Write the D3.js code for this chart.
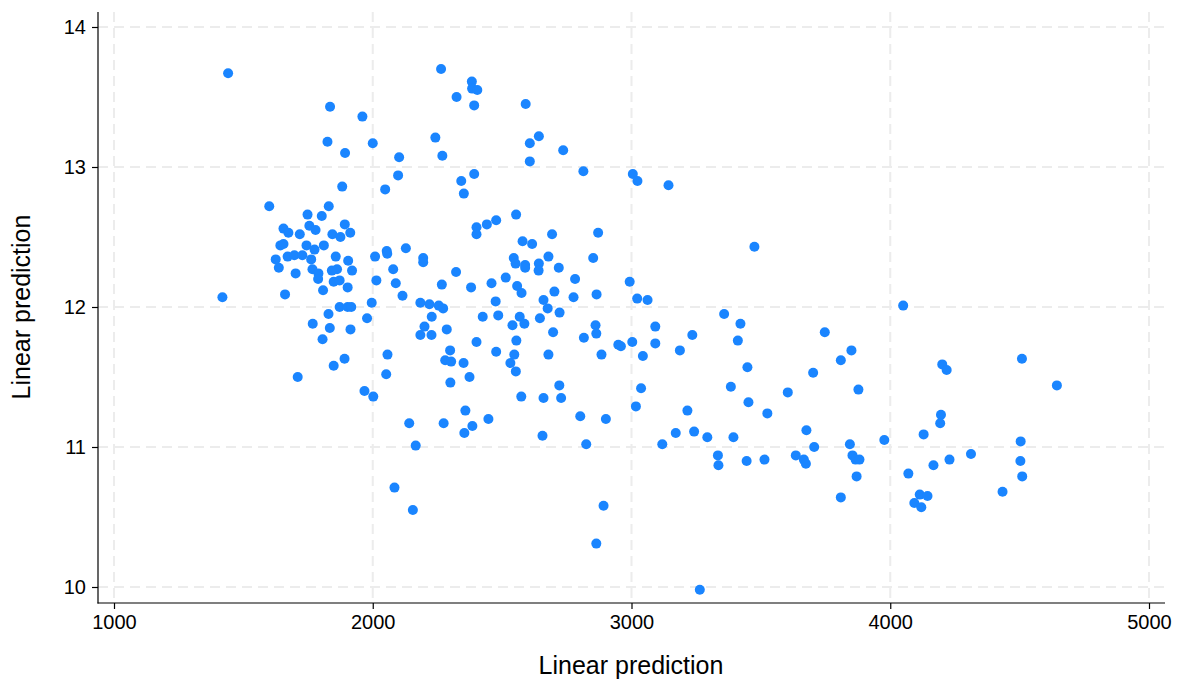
<!DOCTYPE html>
<html>
<head>
<meta charset="utf-8">
<script src="https://cdn.jsdelivr.net/npm/d3@7"></script>
<style>
  body { margin: 0; background: #fff; }
  svg { display: block; font-family: "Liberation Sans", Arial, sans-serif; }
</style>
</head>
<body>
<svg id="chart" width="1181" height="681"></svg>
<script>
// data (x = linear prediction, y = linear prediction)
var xVals = [1441,1835,1960,1825,1893,2000,2102,2098,2048,1882,1600,1830,1748,1803,1892,1755,1779,1655,1674,1718,
  1844,1875,1913,1643,1655,1744,1775,1811,2054,2128,1625,1637,1671,1697,1728,1762,1702,1767,1790,1789,
  1808,1857,1842,1862,1849,1872,1903,1905,1920,1661,1419,1829,1872,1903,1917,1996,1978,2009,2056,2079,
  2014,2089,2115,2195,2195,2184,2219,2255,2272,
  2264,2383,2384,2404,2324,2392,2591,2242,2269,2607,2642,2736,2607,2814,3005,3023,2342,2392,2352,2554,
  2401,2401,2441,2477,2579,2616,2693,2871,3143,3475,
  2322,2267,2380,2459,2514,2545,2552,2589,2589,2642,2641,2679,2719,2558,2575,2702,2660,2676,2722,2776,
  2782,2852,2865,2993,3022,3062,2475,2228,2425,2485,2568,2646,
  2200,2184,2227,2286,2540,2586,2697,2401,2477,2555,2547,2532,2553,2679,2299,2280,2303,2351,2374,2300,
  2574,2660,2721,2728,2358,2274,2385,2354,2447,2656,2802,2901,2825,2861,2864,2816,2884,2949,2959,3003,
  3044,3037,3017,
  1768,1834,1806,1914,1891,1849,1710,2057,2052,1968,2002,2141,2166,2084,2155,2892,2864,
  3119,3171,3242,3293,3394,3334,3336,3445,3514,3635,3666,3674,3676,3706,3844,3854,3866,3881,3870,3809,3264,
  3358,3421,3411,3235,3092,3092,3187,3747,3850,3809,3702,3448,3877,3384,3452,3525,3604,3216,
  4050,4201,4218,4509,4644,4196,4193,4129,3977,4504,4070,4167,4229,4312,4503,4510,4434,4114,4144,4093,4120];
var yVals = [13.67,13.43,13.36,13.18,13.10,13.17,13.07,12.94,12.84,12.86,12.72,12.72,12.66,12.65,12.59,12.58,12.55,12.56,12.53,12.52,
  12.52,12.50,12.53,12.44,12.45,12.44,12.41,12.44,12.40,12.42,12.34,12.28,12.36,12.37,12.37,12.34,12.24,12.27,12.24,12.20,
  12.12,12.36,12.26,12.27,12.18,12.19,12.14,12.33,12.26,12.09,12.07,11.95,12.00,12.00,12.00,12.03,11.92,12.36,12.38,12.27,
  12.19,12.17,12.08,12.35,12.32,12.03,12.02,12.01,11.99,
  13.70,13.61,13.56,13.55,13.50,13.44,13.45,13.21,13.08,13.17,13.22,13.12,13.04,12.97,12.95,12.90,12.90,12.95,12.81,12.66,
  12.57,12.52,12.59,12.62,12.47,12.45,12.52,12.53,12.87,12.43,
  12.25,12.16,12.14,12.17,12.21,12.35,12.31,12.30,12.28,12.31,12.26,12.36,12.28,12.15,12.10,12.11,12.05,11.99,11.96,12.07,
  12.20,12.35,12.09,12.18,12.06,12.05,12.04,11.93,11.93,11.94,11.93,11.92,
  11.86,11.80,11.80,11.84,11.87,11.88,11.82,11.75,11.68,11.76,11.66,11.60,11.54,11.66,11.69,11.62,11.61,11.60,11.50,11.46,
  11.36,11.35,11.44,11.35,11.26,11.17,11.15,11.10,11.20,11.08,11.22,11.20,11.02,11.87,11.81,11.78,11.66,11.73,11.72,11.75,
  11.65,11.42,11.29,
  11.88,11.85,11.77,11.84,11.63,11.58,11.50,11.66,11.52,11.40,11.36,11.17,11.01,10.71,10.55,10.58,10.31,
  11.02,11.10,11.11,11.07,11.07,10.94,10.87,10.90,10.91,10.94,10.91,10.88,11.12,11.00,11.02,10.94,10.91,10.91,10.79,10.64,9.98,
  11.95,11.88,11.76,11.80,11.86,11.74,11.69,11.82,11.69,11.62,11.53,11.57,11.41,11.43,11.32,11.24,11.39,11.26,
  12.01,11.59,11.55,11.63,11.44,11.23,11.17,11.09,11.05,11.04,10.81,10.87,10.91,10.95,10.90,10.79,10.68,10.66,10.65,10.60,10.57];
var xTicks = [1000, 2000, 3000, 4000, 5000];
var yTicks = [10, 11, 12, 13, 14];

var svg = d3.select("#chart");

var x = d3.scaleLinear().domain([1000, 5000]).range([114, 1149]);
var y = d3.scaleLinear().domain([10, 14]).range([587, 27]);

var axisLeftX = 98, axisBottomY = 603;

//grid
var grid = svg.append("g").attr("stroke", "#ececec").attr("stroke-width", 2).attr("stroke-dasharray", "10,6");
grid.selectAll(".gx").data(xTicks).enter().append("line")
  .attr("x1", function(d) { return x(d); }).attr("x2", function(d) { return x(d); })
  .attr("y1", 12).attr("y2", axisBottomY);
grid.selectAll(".gy").data(yTicks).enter().append("line")
  .attr("y1", function(d) { return y(d); }).attr("y2", function(d) { return y(d); })
  .attr("x1", axisLeftX).attr("x2", 1165);

//axes
var fmt = d3.format("d");
var xAxis = d3.axisBottom(x).tickValues(xTicks).tickFormat(fmt).tickSize(6).tickSizeOuter(0).tickPadding(6);
var yAxis = d3.axisLeft(y).tickValues(yTicks).tickFormat(fmt).tickSize(6).tickSizeOuter(0).tickPadding(6);

var gx = svg.append("g").attr("transform", "translate(0," + axisBottomY + ")").call(xAxis);
var gy = svg.append("g").attr("transform", "translate(" + axisLeftX + ",0)").call(yAxis);
[gx, gy].forEach(function(g) {
  g.select(".domain").remove();
  g.selectAll(".tick line").attr("stroke", "#000").attr("stroke-width", 1.2);
  g.selectAll(".tick text").attr("fill", "#000").style("font-size", "20px")
    .style("font-family", "'Liberation Sans', Arial, sans-serif");
});

svg.append("line").attr("x1", axisLeftX).attr("x2", axisLeftX).attr("y1", 12).attr("y2", axisBottomY + 0.5)
  .attr("stroke", "#000").attr("stroke-width", 1.2);
svg.append("line").attr("x1", axisLeftX - 0.5).attr("x2", 1165).attr("y1", axisBottomY).attr("y2", axisBottomY)
  .attr("stroke", "#000").attr("stroke-width", 1.2);

//titles
svg.append("text").attr("x", 631).attr("y", 674).attr("text-anchor", "middle")
  .style("font-size", "25px").text("Linear prediction");
svg.append("text").attr("transform", "translate(30,307) rotate(-90)").attr("text-anchor", "middle")
  .style("font-size", "25px").text("Linear prediction");

//points
svg.append("g").selectAll("circle").data(xVals).enter().append("circle")
  .attr("cx", function(d) { return x(d); })
  .attr("cy", function(d, i) { return y(yVals[i]); })
  .attr("r", 5)
  .attr("fill", "#1a85ff");
</script>
</body>
</html>
